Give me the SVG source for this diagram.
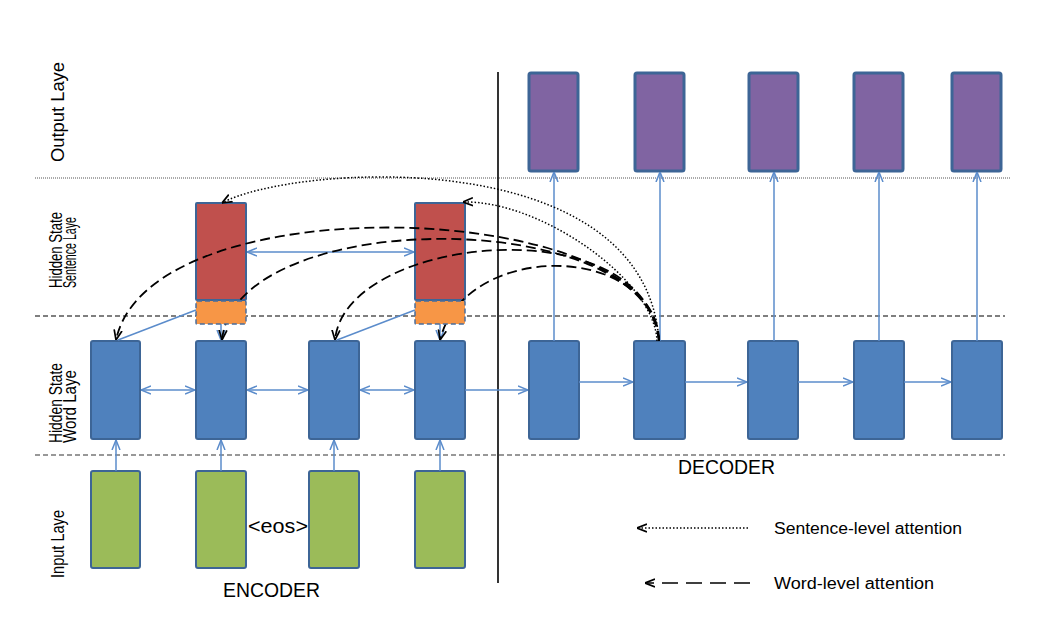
<svg xmlns="http://www.w3.org/2000/svg" width="1060" height="636" viewBox="0 0 1060 636">
<style>
.box{stroke:#3D6596;stroke-width:2}
.word{fill:#4F81BD}
.inp{fill:#9BBB59}
.sent{fill:#C0504D}
.orng{fill:#F79646;stroke:#4A6E9C;stroke-width:1.5;stroke-dasharray:5,3}
.out{fill:#8064A2;stroke:#3D6596;stroke-width:3}
.bl{stroke:#5B8CCB;stroke-width:1.5;fill:none}
.wa{stroke:#000;stroke-width:1.8;fill:none;stroke-dasharray:10,5}
.sa{stroke:#000;stroke-width:1.5;fill:none;stroke-dasharray:1.5,2}
.lbl{font-family:"Liberation Sans",Arial,sans-serif;font-size:19px;fill:#000}
.big{font-family:"Liberation Sans",Arial,sans-serif;font-size:21px;fill:#000}
.leg{font-family:"Liberation Sans",Arial,sans-serif;font-size:16px;fill:#000}
</style>
<defs>
<marker id="ab" viewBox="0 0 10 10" refX="10" refY="5" markerWidth="10" markerHeight="10" markerUnits="userSpaceOnUse" orient="auto-start-reverse">
<path d="M0,1 L10,5 L0,9" fill="none" stroke="#5B8CCB" stroke-width="1.5"/>
</marker>
<marker id="ak" viewBox="0 0 10 10" refX="10" refY="5" markerWidth="10" markerHeight="10" markerUnits="userSpaceOnUse" orient="auto">
<path d="M0,1 L10,5 L0,9" fill="none" stroke="#000" stroke-width="1.7"/>
</marker>
</defs>
<rect width="1060" height="636" fill="#fff"/>

<g id="separators" fill="none">
<line x1="35" y1="178" x2="1010" y2="178" stroke="#555" stroke-width="1" stroke-dasharray="1,1"/>
<line x1="35" y1="316" x2="1005" y2="316" stroke="#000" stroke-width="1.2" stroke-dasharray="5,3"/>
<line x1="35" y1="455" x2="1005" y2="455" stroke="#333" stroke-width="1.2" stroke-dasharray="5,3"/>
<line x1="498" y1="72" x2="498" y2="583" stroke="#000" stroke-width="1.6"/>
</g>

<g id="layer-labels">
<text class="lbl" transform="translate(64,162) rotate(-90)" textLength="100" lengthAdjust="spacingAndGlyphs">Output Laye</text>
<text class="lbl" transform="translate(62,288) rotate(-90)" textLength="76" lengthAdjust="spacingAndGlyphs">Hidden State</text>
<text class="lbl" transform="translate(76,288) rotate(-90)" textLength="71" lengthAdjust="spacingAndGlyphs">Sentence Laye</text>
<text class="lbl" transform="translate(62,443) rotate(-90)" textLength="80" lengthAdjust="spacingAndGlyphs">Hidden State</text>
<text class="lbl" transform="translate(76,443) rotate(-90)" textLength="73" lengthAdjust="spacingAndGlyphs">Word Laye</text>
<text class="lbl" transform="translate(64,578) rotate(-90)" textLength="68" lengthAdjust="spacingAndGlyphs">Input Laye</text>
</g>

<g id="output-nodes">
<rect id="o1" class="out" x="529" y="73" width="49" height="98" rx="2"/>
<rect id="o2" class="out" x="635" y="73" width="49" height="98" rx="2"/>
<rect id="o3" class="out" x="749" y="73" width="49" height="98" rx="2"/>
<rect id="o4" class="out" x="854" y="73" width="49" height="98" rx="2"/>
<rect id="o5" class="out" x="952" y="73" width="49" height="98" rx="2"/>
</g>

<g id="sentence-nodes">
<rect id="s1" class="box sent" x="196" y="203" width="50" height="97" rx="1"/>
<rect id="s2" class="box sent" x="415" y="203" width="50" height="97" rx="1"/>
</g>

<g id="word-nodes">
<rect id="e1" class="box word" x="91" y="341" width="49" height="98" rx="2"/>
<rect id="e2" class="box word" x="196" y="341" width="50" height="98" rx="2"/>
<rect id="e3" class="box word" x="309" y="341" width="50" height="98" rx="2"/>
<rect id="e4" class="box word" x="415" y="341" width="50" height="98" rx="2"/>
<rect id="d1" class="box word" x="529" y="341" width="50" height="98" rx="2"/>
<rect id="d2" class="box word" x="634" y="341" width="51" height="98" rx="2"/>
<rect id="d3" class="box word" x="748" y="341" width="50" height="98" rx="2"/>
<rect id="d4" class="box word" x="854" y="341" width="50" height="98" rx="2"/>
<rect id="d5" class="box word" x="952" y="341" width="50" height="98" rx="2"/>
</g>

<g id="input-nodes">
<rect id="i1" class="box inp" x="91" y="471" width="49" height="97" rx="2"/>
<rect id="i2" class="box inp" x="196" y="471" width="50" height="97" rx="2"/>
<rect id="i3" class="box inp" x="309" y="471" width="50" height="97" rx="2"/>
<rect id="i4" class="box inp" x="415" y="471" width="50" height="97" rx="2"/>
</g>

<g id="connectors">
<line class="bl" x1="116" y1="471" x2="116" y2="440" marker-end="url(#ab)"/>
<line class="bl" x1="221" y1="471" x2="221" y2="440" marker-end="url(#ab)"/>
<line class="bl" x1="334" y1="471" x2="334" y2="440" marker-end="url(#ab)"/>
<line class="bl" x1="440" y1="471" x2="440" y2="440" marker-end="url(#ab)"/>
<line class="bl" x1="141" y1="390" x2="195" y2="390" marker-start="url(#ab)" marker-end="url(#ab)"/>
<line class="bl" x1="247" y1="390" x2="308" y2="390" marker-start="url(#ab)" marker-end="url(#ab)"/>
<line class="bl" x1="360" y1="390" x2="414" y2="390" marker-start="url(#ab)" marker-end="url(#ab)"/>
<line class="bl" x1="465" y1="390" x2="528" y2="390" marker-end="url(#ab)"/>
<line class="bl" x1="579" y1="382" x2="633" y2="382" marker-end="url(#ab)"/>
<line class="bl" x1="685" y1="382" x2="747" y2="382" marker-end="url(#ab)"/>
<line class="bl" x1="798" y1="382" x2="853" y2="382" marker-end="url(#ab)"/>
<line class="bl" x1="904" y1="382" x2="951" y2="382" marker-end="url(#ab)"/>
<line class="bl" x1="554" y1="341" x2="554" y2="172" marker-end="url(#ab)"/>
<line class="bl" x1="660" y1="341" x2="660" y2="172" marker-end="url(#ab)"/>
<line class="bl" x1="774" y1="341" x2="774" y2="172" marker-end="url(#ab)"/>
<line class="bl" x1="879" y1="341" x2="879" y2="172" marker-end="url(#ab)"/>
<line class="bl" x1="977" y1="341" x2="977" y2="172" marker-end="url(#ab)"/>
<line class="bl" x1="247" y1="252" x2="414" y2="252" marker-start="url(#ab)" marker-end="url(#ab)"/>
<line class="bl" x1="118" y1="340" x2="196" y2="310"/>
<line class="bl" x1="337" y1="340" x2="415" y2="310"/>
<line class="bl" x1="221" y1="324" x2="221" y2="340" marker-end="url(#ab)"/>
<line class="bl" x1="440" y1="324" x2="440" y2="340" marker-end="url(#ab)"/>

<path class="wa" d="M659,341 C660,200 150,180 116,340" marker-end="url(#ak)"/>
<path class="wa" d="M659,341 C650,205 235,205 222,340" marker-end="url(#ak)"/>
<path class="wa" d="M659,341 C645,205 345,235 335,340" marker-end="url(#ak)"/>
<path class="wa" d="M659,341 C650,240 464,242 440,340" marker-end="url(#ak)"/>
<path class="sa" d="M659,341 C645,140 290,165 222,203" marker-end="url(#ak)"/>
<path class="sa" d="M657,341 C655,280 540,200 463,202" marker-end="url(#ak)"/>
</g>

<g id="orange-nodes">
<rect id="c1" class="orng" x="196" y="301" width="50" height="23" rx="1"/>
<rect id="c2" class="orng" x="415" y="301" width="50" height="23" rx="1"/>
</g>

<g id="texts">
<text class="big" x="248" y="533" textLength="60" lengthAdjust="spacingAndGlyphs">&lt;eos&gt;</text>
<text class="big" x="223" y="597" textLength="97" lengthAdjust="spacingAndGlyphs">ENCODER</text>
<text class="big" x="678" y="474" textLength="97" lengthAdjust="spacingAndGlyphs">DECODER</text>
</g>

<g id="legend">
<line class="sa" x1="748" y1="528" x2="637" y2="528" marker-end="url(#ak)"/>
<text class="leg" x="774" y="534" textLength="188" lengthAdjust="spacingAndGlyphs">Sentence-level attention</text>
<line x1="750" y1="583" x2="645" y2="583" stroke="#000" stroke-width="1.6" stroke-dasharray="16,8" marker-end="url(#ak)"/>
<text class="leg" x="774" y="589" textLength="160" lengthAdjust="spacingAndGlyphs">Word-level attention</text>
</g>
</svg>
